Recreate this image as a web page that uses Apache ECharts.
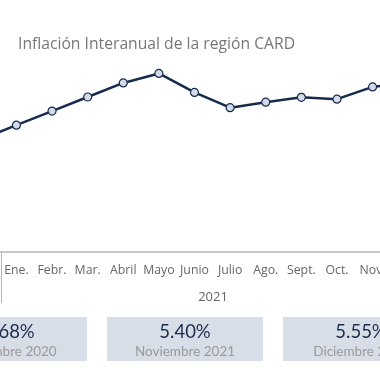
<!DOCTYPE html>
<html><head><meta charset="utf-8">
<script src="https://cdn.jsdelivr.net/npm/echarts@6/dist/echarts.min.js"></script>
<style>html,body{margin:0;padding:0;background:#fff;overflow:hidden;width:380px;height:380px;position:relative}
#c{position:absolute;left:-60px;top:0;width:520px;height:380px}</style>
</head><body><div id="c"></div>
<script>
var months = ['Dic.', 'Ene.', 'Febr.', 'Mar.', 'Abril', 'Mayo', 'Junio', 'Julio', 'Ago.', 'Sept.', 'Oct.', 'Nov.', 'Dic.'];
var inflation = [3.68, 4.15, 4.61, 5.07, 5.53, 5.84, 5.22, 4.72, 4.90, 5.06, 5.00, 5.40, 5.55];
var yearLabel = '2021';
var boxValues = ['3.68%', '5.40%', '5.55%'];
var boxLabels = ['Diciembre 2020', 'Noviembre 2021', 'Diciembre 2021'];
var titleText = 'Inflación Interanual de la región CARD';

var FONT = 'Lato';
var FONT2 = "'Open Sans'";
var OFF = 60;
var boxX = [-69, 107, 283], boxW = 156;
var graphics = [
  {type:'line', shape:{x1:OFF+1.5,y1:252,x2:OFF+1.5,y2:303}, style:{stroke:'#b5b5b5', lineWidth:1}},
  {type:'text', style:{text:yearLabel, x:OFF+213, y:297, align:'center', verticalAlign:'middle', fill:'#666', font:'13px ' + FONT2}}
];
for (var i = 0; i < boxValues.length; i++) {
  var cx = OFF + boxX[i] + boxW / 2;
  graphics.push({type:'rect', shape:{x:OFF+boxX[i], y:317, width:boxW, height:44}, style:{fill:'#d7dee7'}});
  graphics.push({type:'text', style:{text:boxValues[i], x:cx, y:332, align:'center', verticalAlign:'middle', fill:'#1c2c4c', font:'18.5px ' + FONT}});
  graphics.push({type:'text', style:{text:boxLabels[i], x:cx, y:352, align:'center', verticalAlign:'middle', fill:'#9a9a9a', font:'13.5px ' + FONT}});
}

var chart = echarts.init(document.getElementById('c'), null, {renderer:'canvas'});
chart.setOption({
  animation:false,
  title:{text:titleText, left:OFF+13, top:32, textStyle:{fontFamily:'Open Sans', fontWeight:'normal', fontSize:15.7, color:'#777'}},
  grid:{left:OFF-37, width:463, top:38, height:214},
  xAxis:{type:'category', data:months, boundaryGap:true,
    axisLine:{lineStyle:{color:'#b5b5b5', width:1.5}}, axisTick:{show:false},
    axisLabel:{color:'#666', fontFamily:'Open Sans', fontSize:12.3, margin:12, interval:0}},
  yAxis:{type:'value', min:0, max:7, show:false, splitLine:{show:false}},
  series:[{type:'line', data:inflation, symbol:'circle', symbolSize:8,
    lineStyle:{color:'#172b4d', width:2.5},
    itemStyle:{color:'#d3dbe8', borderColor:'#172b4d', borderWidth:1.2}}],
  graphic:graphics
});
</script></body></html>
